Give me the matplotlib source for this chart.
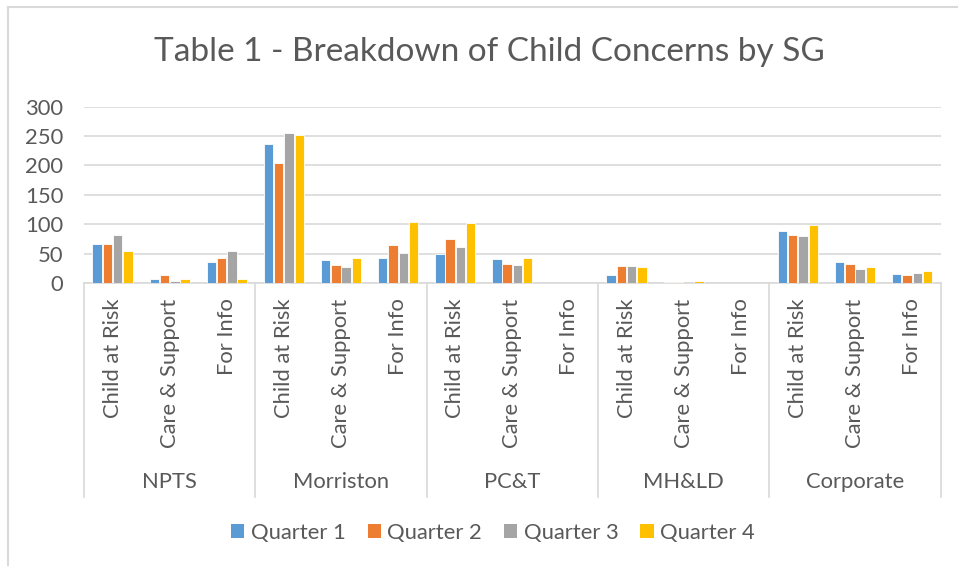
import matplotlib
matplotlib.use("Agg")
import matplotlib.pyplot as plt
from matplotlib.patches import Patch
from matplotlib.lines import Line2D
from matplotlib.transforms import blended_transform_factory
import numpy as np

plt.rcParams['font.family'] = ['Lato', 'DejaVu Sans']

groups = ["NPTS", "Morriston", "PC&T", "MH&LD", "Corporate"]
subcats = ["Child at Risk", "Care & Support", "For Info"]
series = ["Quarter 1", "Quarter 2", "Quarter 3", "Quarter 4"]
colors = ["#5B9BD5", "#ED7D31", "#A5A5A5", "#FFC000"]

# values per series, ordered group by group, subcategory by subcategory
q1 = [66, 7, 36, 237, 39, 42, 50, 41, 0, 14, 2, 0, 89, 35, 16]
q2 = [66, 13, 42, 205, 31, 65, 75, 33, 0, 29, 1, 0, 82, 32, 13]
q3 = [81, 3, 55, 256, 27, 51, 61, 30, 0, 29, 0, 0, 80, 24, 17]
q4 = [55, 6, 7, 252, 42, 104, 102, 43, 0, 27, 3, 0, 99, 28, 20]
values = [q1, q2, q3, q4]
yticks = [0, 50, 100, 150, 200, 250, 300]

W, H = 958, 566
fig = plt.figure(figsize=(W / 100, H / 100), dpi=100)
text_color = "#595959"
grid_color = "#D9D9D9"
fs = 15.8

# outer frame (only left and top edges visible)
fig.add_artist(Line2D([7.5 / W, 7.5 / W], [0, 1 - 7 / H], transform=fig.transFigure,
                      color=grid_color, linewidth=1.5))
fig.add_artist(Line2D([7.5 / W, 1], [1 - 7 / H, 1 - 7 / H], transform=fig.transFigure,
                      color=grid_color, linewidth=1.5))

left, right, bottom, top = 84, 940.7, 283, 106.7
ax = fig.add_axes([left / W, 1 - bottom / H, (right - left) / W, (bottom - top) / H])

n = len(groups) * len(subcats)
x = np.arange(n) + 0.5
bw = 0.165
pitch = 0.18
for i, (vals, c, name) in enumerate(zip(values, colors, series)):
    ax.bar(x + (i - 1.5) * pitch, vals, width=bw, color=c, label=name,
           edgecolor="white", linewidth=0.6, zorder=3)

ax.set_xlim(0, n)
ax.set_ylim(0, 300)
ax.set_yticks(yticks)
ax.set_yticklabels([str(t) for t in yticks], fontsize=fs, color=text_color)
ax.tick_params(axis='y', length=0, pad=15)
ax.grid(axis='y', color=grid_color, linewidth=1.2, zorder=0)
for s in ["top", "right", "left"]:
    ax.spines[s].set_visible(False)
ax.spines["bottom"].set_color(grid_color)
ax.spines["bottom"].set_linewidth(1.2)

ax.set_xticks(x)
ax.set_xticklabels(subcats * len(groups), rotation=90, fontsize=fs,
                   color=text_color, va='top', ha='center')
ax.tick_params(axis='x', length=0, pad=11)

trans = blended_transform_factory(ax.transData, fig.transFigure)
sep_bottom = 1 - 497 / H
sep_top = 1 - 283 / H
for k in range(len(groups) + 1):
    xs = k * len(subcats)
    ax.plot([xs, xs], [sep_bottom, sep_top], transform=trans, color=grid_color,
            linewidth=1.2, clip_on=False)
for k, g in enumerate(groups):
    ax.text(k * len(subcats) + 1.5, 1 - 482 / H, g, transform=trans, ha='center',
            va='center', fontsize=fs, color=text_color)

fig.text(489 / W, 1 - 52 / H, "Table 1 - Breakdown of Child Concerns by SG",
         ha='center', va='center', fontsize=24, color=text_color)

handles = [Patch(facecolor=c, edgecolor='none', label=s) for c, s in zip(colors, series)]
fig.legend(handles=handles, loc='center', bbox_to_anchor=(493 / W, 1 - 533 / H), ncol=4,
           frameon=False, fontsize=fs, labelcolor=text_color, handlelength=0.6,
           handleheight=0.6, handletextpad=0.3, columnspacing=1.0)

fig.savefig("out.png", dpi=100)
